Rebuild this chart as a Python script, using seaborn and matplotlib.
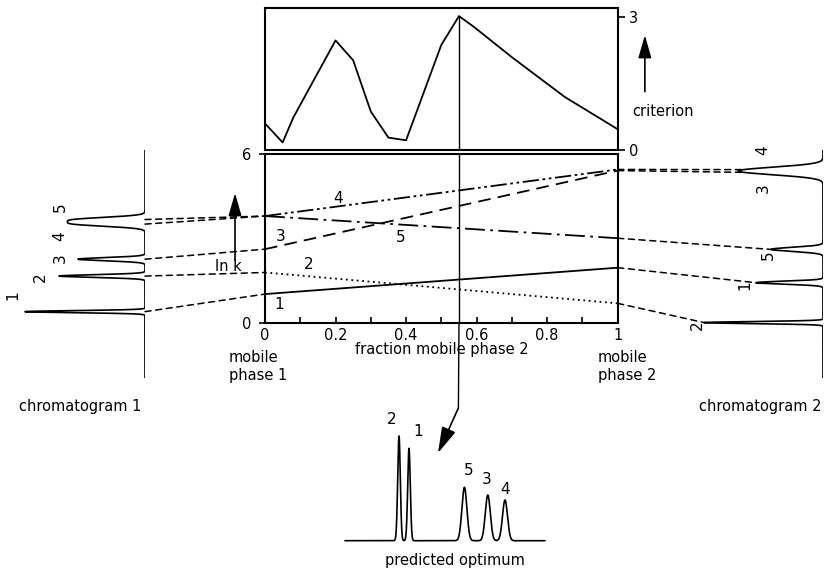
import numpy as np
import matplotlib.pyplot as plt
import seaborn as sns
from matplotlib.patches import ConnectionPatch

sns.set_style("white")
plt.rcParams['font.family'] = ['DejaVu Sans']
plt.rcParams.update({'text.color': 'black', 'xtick.color': 'black', 'ytick.color': 'black',
                     'axes.labelcolor': 'black'})

# criterion as function of the fraction of mobile phase 2 (top panel)
crit_frac = [0.0, 0.05, 0.08, 0.20, 0.25, 0.30, 0.35, 0.40, 0.50, 0.55, 0.59, 0.70, 0.85, 1.0]
criterion = [0.60, 0.17, 0.73, 2.48, 2.03, 0.87, 0.28, 0.22, 2.38, 3.03, 2.80, 2.10, 1.20, 0.47]

# ln k of the five solutes in mobile phase 1 and mobile phase 2
solutes = ['1', '2', '3', '4', '5']
lnk_mp1 = [1.02, 1.79, 2.62, 3.80, 3.80]
lnk_mp2 = [1.96, 0.69, 5.42, 5.46, 3.01]
line_styles = ['-', (0, (1, 2)), (0, (7, 4)), (0, (9, 2, 1.5, 2, 1.5, 2)), (0, (11, 3, 1.5, 3))]
optimum_frac = 0.55

# chromatogram 1 (mobile phase 1): retention time, peak height, peak width
c1_time = [2.91, 4.47, 5.21, 6.75, 6.95]
c1_height = [120, 86, 67, 64, 64]
c1_width = [0.045, 0.06, 0.07, 0.10, 0.10]

# chromatogram 2 (mobile phase 2)
c2_time = [4.18, 2.43, 9.02, 9.14, 5.64]
c2_height = [67, 119, 46, 46, 52]
c2_width = [0.065, 0.045, 0.15, 0.15, 0.09]

# predicted optimum chromatogram
opt_time = [3.2, 2.7, 7.14, 8.0, 5.97]
opt_height = [92.4, 104.7, 45.7, 40.7, 53.4]
opt_width = [0.065, 0.065, 0.125, 0.125, 0.125]


def chromatogram(t, times, heights, widths):
    sig = np.zeros_like(t)
    for tr, h, w in zip(times, heights, widths):
        sig += h * np.exp(-0.5 * ((t - tr) / w) ** 2)
    return sig


fig = plt.figure(figsize=(8.28, 5.72), dpi=100)


def px_axes(x0, y0, x1, y1):
    return fig.add_axes([x0 / 828, 1 - y1 / 572, (x1 - x0) / 828, (y1 - y0) / 572])


ax_top = px_axes(265, 7.7, 617.7, 150)
ax_main = px_axes(265, 154.3, 617.7, 322.7)
ax_c1 = px_axes(10, 150, 145, 378)
ax_c2 = px_axes(691, 150, 823, 378)
ax_opt = px_axes(345, 430, 545, 540.7)

fs = 10.5

# ---- top panel: criterion
sns.lineplot(x=crit_frac, y=criterion, ax=ax_top, color='k', lw=1.3)
crit_opt = np.interp(optimum_frac, crit_frac, criterion)
ax_top.plot([optimum_frac, optimum_frac], [0, crit_opt], color='k', lw=1)
ax_top.set_xlim(0, 1)
ax_top.set_ylim(0, 3.22)
ax_top.set_xticks([])
ax_top.yaxis.tick_right()
ax_top.set_yticks([0, 3])
ax_top.tick_params(axis='y', direction='out', length=5, width=1.2, pad=3, labelsize=fs, right=True)
ax_top.annotate('', xy=(1.077, 2.6), xytext=(1.077, 1.32), xycoords='data',
                arrowprops=dict(arrowstyle='-|>,head_length=1.4,head_width=0.4', color='k', lw=1.2,
                                shrinkA=0, shrinkB=0), annotation_clip=False)
ax_top.text(1.129, 0.88, 'criterion', ha='center', va='center', fontsize=fs, clip_on=False)

# ---- main panel: ln k vs fraction mobile phase 2
for i, name in enumerate(solutes):
    sns.lineplot(x=[0, 1], y=[lnk_mp1[i], lnk_mp2[i]], ax=ax_main, color='k', lw=1.3,
                 linestyle=line_styles[i])
ax_main.axvline(optimum_frac, color='k', lw=1)
label_pos = {'1': (0.041, 0.66), '2': (0.123, 2.06), '3': (0.045, 3.06), '4': (0.207, 4.44), '5': (0.385, 3.04)}
for name, (lx, ly) in label_pos.items():
    ax_main.text(lx, ly, name, ha='center', va='center', fontsize=fs + 0.5)
ax_main.set_xlim(0, 1)
ax_main.set_ylim(0, 6)
ax_main.set_xticks([0, 0.2, 0.4, 0.6, 0.8, 1])
ax_main.set_xticklabels(['0', '0.2', '0.4', '0.6', '0.8', '1'])
ax_main.set_xticks(np.arange(0.1, 1.0, 0.2), minor=True)
ax_main.set_yticks([0, 6])
ax_main.tick_params(axis='x', which='both', direction='in', length=4, width=1.2, pad=4, labelsize=fs, bottom=True)
ax_main.tick_params(axis='y', direction='inout', length=8, width=1.2, pad=6, labelsize=fs, left=True)
ax_main.text(0.5, -0.16, 'fraction mobile phase 2', transform=ax_main.transAxes, ha='center', va='center', fontsize=fs)
ax_main.text(-0.103, -0.16, 'mobile\nphase 1', transform=ax_main.transAxes, ha='left', va='top',
             fontsize=fs, linespacing=1.25)
ax_main.text(0.944, -0.16, 'mobile\nphase 2', transform=ax_main.transAxes, ha='left', va='top',
             fontsize=fs, linespacing=1.25)
ax_main.annotate('', xy=(-0.085, 4.62), xytext=(-0.085, 2.23),
                 arrowprops=dict(arrowstyle='-|>,head_length=1.4,head_width=0.4', color='k', lw=1.2,
                                 shrinkA=0, shrinkB=0), annotation_clip=False)
ax_main.text(-0.103, 2.0, 'ln k', ha='center', va='center', fontsize=fs, clip_on=False)

for ax in (ax_top, ax_main):
    for sp in ax.spines.values():
        sp.set_color('k')
        sp.set_linewidth(1.5)

# ---- chromatogram 1 (vertical, peaks pointing left)
t_grid = np.linspace(0, 10, 4000)
sig1 = chromatogram(t_grid, c1_time, c1_height, c1_width)
ax_c1.plot(sig1, t_grid, color='k', lw=1.2)
ax_c1.set_xlim(135, 0)
ax_c1.set_ylim(0, 10)
ax_c1.axis('off')
c1_labels = {'1': (132, 3.64), '2': (105, 4.44), '3': (85, 5.26), '4': (85, 6.2), '5': (85, 7.51)}
for name, (lx, ly) in c1_labels.items():
    ax_c1.text(lx, ly, name, rotation=90, ha='center', va='center', fontsize=fs + 0.5)
fig.text(80 / 828, 1 - 407 / 572, 'chromatogram 1', ha='center', va='center', fontsize=fs)

# ---- chromatogram 2
sig2 = chromatogram(t_grid, c2_time, c2_height, c2_width)
ax_c2.plot(sig2, t_grid, color='k', lw=1.2)
ax_c2.set_xlim(132, 0)
ax_c2.set_ylim(0, 10)
ax_c2.axis('off')
c2_labels = {'2': (126, 2.32), '1': (78, 4.08), '5': (55, 5.39), '3': (60, 8.33), '4': (60, 10.0)}
for name, (lx, ly) in c2_labels.items():
    ax_c2.text(lx, ly, name, rotation=90, ha='center', va='center', fontsize=fs + 0.5, clip_on=False)
fig.text(760 / 828, 1 - 406 / 572, 'chromatogram 2', ha='center', va='center', fontsize=fs)

# ---- dashed connectors
for i in range(len(solutes)):
    con = ConnectionPatch(xyA=(0, c1_time[i]), coordsA=ax_c1.transData,
                          xyB=(0, lnk_mp1[i]), coordsB=ax_main.transData,
                          color='k', lw=1.1, linestyle=(0, (4, 3)))
    fig.add_artist(con)
    tip = np.interp(c2_time[i], t_grid, sig2)
    con = ConnectionPatch(xyA=(1, lnk_mp2[i]), coordsA=ax_main.transData,
                          xyB=(tip, c2_time[i]), coordsB=ax_c2.transData,
                          color='k', lw=1.1, linestyle=(0, (4, 3)))
    fig.add_artist(con)

# ---- predicted optimum
t_opt = np.linspace(0, 10, 3000)
sig_opt = chromatogram(t_opt, opt_time, opt_height, opt_width)
sns.lineplot(x=t_opt, y=sig_opt, ax=ax_opt, color='k', lw=1.2)
ax_opt.set_xlim(0, 10)
ax_opt.set_ylim(0, 110.7)
ax_opt.axis('off')
for line in ax_opt.lines:
    line.set_clip_on(False)
opt_labels = {'2': (2.33, 120.7), '1': (3.67, 109), '5': (6.2, 70.7), '3': (7.09, 61.7), '4': (8.0, 51.7)}
for name, (lx, ly) in opt_labels.items():
    ax_opt.text(lx, ly, name, ha='center', va='center', fontsize=fs + 0.5, clip_on=False)
fig.text(455 / 828, 1 - 561 / 572, 'predicted optimum', ha='center', va='center', fontsize=fs)

# arrow from the optimum down to the predicted chromatogram
con = ConnectionPatch(xyA=(optimum_frac, 0), coordsA=ax_main.transData,
                      xyB=(5.67, 132.7), coordsB=ax_opt.transData, color='k', lw=1)
fig.add_artist(con)
ax_opt.annotate('', xy=(4.65, 87.7), xytext=(5.67, 132.7),
                arrowprops=dict(arrowstyle='-|>,head_length=1.6,head_width=0.45', color='k', lw=1.2,
                                shrinkA=0, shrinkB=0), annotation_clip=False)

fig.savefig('out.png', dpi=100)
